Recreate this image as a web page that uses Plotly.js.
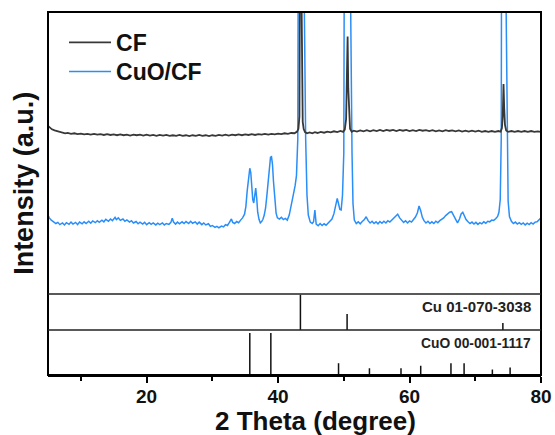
<!DOCTYPE html>
<html>
<head>
<meta charset="utf-8">
<script src="https://cdn.plot.ly/plotly-3.0.1.min.js"></script>
<style>html,body{margin:0;padding:0;background:#fff;}#chart{width:555px;height:435px;}</style>
</head>
<body>
<div id="chart"></div>
<script>
// ---- Data ----
const cfX = [5.0,5.3,5.6,6.0,6.4,6.8,7.2,7.6,8.0,8.5,9.0,9.5,10.0,10.5,11.0,11.5,12.0,12.5,13.0,13.5,14.0,14.5,15.0,15.5,16.0,16.5,17.0,17.5,18.0,18.5,19.0,19.5,20.0,20.5,21.0,21.5,22.0,22.5,23.0,23.5,24.0,24.5,25.0,25.5,26.0,26.5,27.0,27.5,28.0,28.5,29.0,29.5,30.0,30.5,31.0,31.5,32.0,32.5,33.0,33.5,34.0,34.5,35.0,35.5,36.0,36.5,37.0,37.5,38.0,38.5,39.0,39.5,40.0,40.5,41.0,41.5,42.0,42.5,42.9,43.1,43.25,43.35,43.45,43.55,43.65,43.75,43.9,44.1,44.4,44.8,45.2,45.6,46.0,46.5,47.0,47.5,48.0,48.5,49.0,49.5,49.9,50.15,50.35,50.48,50.58,50.68,50.8,50.95,51.2,51.5,52.0,52.5,53.0,53.5,54.0,54.5,55.0,55.5,56.0,56.5,57.0,57.5,58.0,58.5,59.0,59.5,60.0,60.5,61.0,61.5,62.0,62.5,63.0,63.5,64.0,64.5,65.0,65.5,66.0,66.5,67.0,67.5,68.0,68.5,69.0,69.5,70.0,70.5,71.0,71.5,72.0,72.5,73.0,73.5,73.85,74.05,74.18,74.3,74.4,74.52,74.7,75.0,75.5,76.0,76.5,77.0,77.5,78.0,78.5,79.0,79.5,80.0];
const cfY = [59.6,58.9,58.4,58.0,57.7,57.4,57.3,57.0,57.1,56.8,57.0,56.7,56.9,56.6,56.8,56.5,56.8,56.5,56.7,56.4,56.7,56.4,56.6,56.3,56.6,56.3,56.5,56.2,56.5,56.3,56.5,56.2,56.5,56.2,56.4,56.1,56.4,56.2,56.4,56.1,56.3,56.1,56.4,56.1,56.3,56.0,56.3,56.1,56.4,56.1,56.3,56.0,56.3,56.1,56.4,56.2,56.5,56.2,56.5,56.3,56.6,56.3,56.6,56.4,56.7,56.4,56.7,56.5,56.8,56.5,56.8,56.6,56.9,56.7,57.0,56.8,57.1,57.0,57.6,58.6,63,90,200,110,70,61,58.5,57.4,57.0,57.3,57.0,57.4,57.1,57.5,57.2,57.6,57.3,57.7,57.4,57.8,57.5,58.3,62,75,91.3,73,62.5,58.6,57.5,57.9,57.6,58.0,57.7,58.1,57.7,58.1,57.8,58.2,57.8,58.2,57.9,58.2,57.8,58.2,57.9,58.2,57.8,58.1,57.8,58.2,57.9,58.1,57.8,58.1,57.7,58.0,57.7,58.1,57.8,58.0,57.7,58.0,57.6,57.9,57.6,57.9,57.6,57.9,57.5,57.8,57.5,57.8,57.5,57.8,57.6,58.8,63,74.5,66,60,58.0,57.5,57.8,57.5,57.8,57.5,57.8,57.5,57.8,57.5,57.7,57.5];

const cuocfX = [5.0,5.2,5.5,5.8,6.2,6.5,6.8,7.2,7.5,7.8,8.2,8.5,8.8,9.2,9.5,9.8,10.2,10.5,10.8,11.2,11.5,11.8,12.2,12.5,12.8,13.2,13.5,13.8,14.2,14.5,14.8,15.2,15.4,15.7,16.0,16.4,16.7,17.0,17.4,17.7,18.0,18.4,18.7,19.0,19.4,19.7,20.0,20.4,20.7,21.0,21.4,21.7,22.0,22.4,22.7,23.0,23.4,23.7,23.9,24.1,24.4,24.7,25.0,25.4,25.7,26.0,26.4,26.7,27.0,27.4,27.7,28.0,28.4,28.7,29.0,29.4,29.7,30.0,30.4,30.7,31.0,31.4,31.7,32.0,32.3,32.6,32.9,33.1,33.4,33.7,34.0,34.3,34.6,34.9,35.1,35.3,35.5,35.7,35.85,36.0,36.15,36.3,36.45,36.6,36.75,36.9,37.1,37.3,37.5,37.7,37.9,38.1,38.3,38.5,38.7,38.85,39.0,39.15,39.3,39.5,39.7,39.9,40.2,40.5,40.8,41.1,41.4,41.7,42.0,42.3,42.6,42.8,43.0,43.3,43.5,43.65,43.8,44.0,44.2,44.4,44.6,44.9,45.2,45.4,45.6,45.8,46.1,46.4,46.7,47.0,47.3,47.6,47.9,48.2,48.5,48.8,49.0,49.2,49.4,49.6,49.8,50.0,50.3,50.5,50.65,50.8,51.05,51.25,51.4,51.6,51.9,52.2,52.5,52.8,53.1,53.4,53.7,54.0,54.3,54.6,54.9,55.2,55.5,55.8,56.1,56.4,56.7,57.0,57.3,57.6,57.9,58.2,58.5,58.8,59.1,59.4,59.7,60.0,60.3,60.6,60.9,61.2,61.45,61.7,61.95,62.2,62.5,62.8,63.1,63.4,63.7,64.0,64.3,64.6,64.9,65.2,65.5,65.8,66.1,66.4,66.7,67.0,67.3,67.6,67.85,68.1,68.35,68.6,68.9,69.2,69.5,69.8,70.1,70.4,70.7,71.0,71.3,71.6,71.9,72.2,72.5,72.8,73.1,73.4,73.6,73.8,73.95,74.1,74.25,74.4,74.55,74.7,74.85,75.0,75.2,75.5,75.8,76.1,76.4,76.7,77.0,77.3,77.6,77.9,78.2,78.5,78.8,79.1,79.4,79.7,80.0];
const cuocfY = [28.0,27.0,26.2,25.6,25.0,25.4,24.6,25.2,24.5,25.3,24.7,25.5,24.8,25.4,24.6,25.5,24.9,25.6,25.0,25.8,25.1,25.9,25.3,26.0,25.4,26.2,25.6,26.5,25.8,26.6,26.0,27.2,26.4,27.0,26.1,26.6,25.8,26.3,25.5,26.0,25.2,25.7,24.9,25.5,24.8,25.4,24.6,25.3,24.7,25.2,24.5,25.1,24.6,25.2,24.5,25.0,24.7,25.4,26.9,25.5,24.8,25.5,24.9,25.6,25.0,25.7,25.0,25.8,25.1,25.6,24.8,25.5,24.6,25.2,24.5,24.9,24.0,24.3,23.6,24.0,23.5,24.1,23.8,24.6,24.3,25.4,26.6,25.4,25.0,25.7,25.3,26.2,27.0,28.3,31.0,36.5,41.5,44.6,43.0,38.0,33.5,32.3,35.5,37.6,34.0,29.0,26.5,25.2,25.7,26.5,28.0,30.5,35.0,41.0,45.5,48.5,48.7,46.0,40.0,33.0,28.7,27.0,26.6,27.2,26.4,26.8,26.2,28.0,31.0,35.0,38.5,42.0,55,100,300,650,300,100,55,35,28,25.5,25.0,25.6,29.8,24.8,24.2,25.0,24.3,24.9,24.4,25.2,25.6,26.6,28.5,31.5,33.9,32.0,30.0,29.8,35.0,50,100,300,650,300,100,50,32,26.2,25.0,25.6,24.9,25.7,26.3,27.4,26.0,25.2,25.8,25.0,25.6,24.9,25.7,25.1,25.8,25.2,26.0,25.5,26.2,26.6,27.3,28.3,27.0,26.0,25.4,26.0,25.2,25.9,25.5,26.4,27.3,28.8,31.2,29.5,27.2,26.0,25.2,25.8,25.0,25.6,25.0,25.8,25.3,26.0,26.4,27.0,27.8,28.5,29.0,29.2,27.8,26.2,25.2,26.6,28.4,29.0,27.8,26.4,25.6,25.0,25.5,24.8,25.4,24.7,25.3,24.9,25.6,25.1,25.8,25.6,26.2,26.1,26.7,27.5,29.0,33.5,55,100,300,650,300,100,50,33,27.5,25.8,25.0,25.5,24.8,25.3,24.7,25.2,24.5,25.1,24.6,25.3,24.8,25.5,25.6,26.3,27.0];

const cuRefPos = [43.4, 50.5, 74.2];
const cuRefInt = [100, 45, 20];
const cuoRefPos = [35.7, 38.9, 49.2, 53.9, 58.7, 61.7, 66.3, 68.3, 72.6, 75.3];
const cuoRefInt = [100, 100, 28, 16, 16, 22, 28, 28, 13, 18];

const xTickVals = [20, 40, 60, 80];
const xTickText = ['20', '40', '60', '80'];
const seriesNames = ['CF', 'CuO/CF'];
const refLabels = ['Cu 01-070-3038', 'CuO 00-001-1117'];
const xTitle = '2 Theta (degree)';
const yTitle = 'Intensity (a.u.)';

// ---- Build stick traces from reference arrays ----
function sticks(pos, inten) {
  const xs = [], ys = [];
  pos.forEach((p, i) => { xs.push(p, p, null); ys.push(0, inten[i], null); });
  return {xs, ys};
}
const cuS = sticks(cuRefPos, cuRefInt);
const cuoS = sticks(cuoRefPos, cuoRefInt);

const FONT = 'Liberation Sans, Arial, Helvetica, sans-serif';
const legFont = {family: FONT, size: 23, weight: 700, color: '#111'};

const traces = [
  {x: cuocfX, y: cuocfY, type: 'scatter', mode: 'lines', name: seriesNames[1], legend: 'legend2',
   line: {color: '#2a8ef8', width: 1.5}, xaxis: 'x', yaxis: 'y'},
  {x: cfX, y: cfY, type: 'scatter', mode: 'lines', name: seriesNames[0], legend: 'legend',
   line: {color: '#383838', width: 1.8}, xaxis: 'x', yaxis: 'y'},
  {x: cuS.xs, y: cuS.ys, type: 'scatter', mode: 'lines', showlegend: false,
   line: {color: '#111', width: 1.5}, xaxis: 'x', yaxis: 'y2', hoverinfo: 'skip'},
  {x: cuoS.xs, y: cuoS.ys, type: 'scatter', mode: 'lines', showlegend: false,
   line: {color: '#111', width: 1.5}, xaxis: 'x', yaxis: 'y3', hoverinfo: 'skip'}
];

const d1 = 0.124, d2 = 0.2231;
const hiddenY = {showgrid: false, zeroline: false, showticklabels: false, ticks: '', showline: false, fixedrange: true};

const layout = {
  width: 555, height: 435,
  margin: {l: 48, r: 14, t: 12, b: 60},
  paper_bgcolor: '#fff', plot_bgcolor: '#fff',
  font: {family: FONT, color: '#000'},
  showlegend: true,
  legend: {x: 0.0325, y: 0.916, xanchor: 'left', yanchor: 'middle', bgcolor: 'rgba(0,0,0,0)',
           font: legFont, itemwidth: 42},
  legend2: {x: 0.0325, y: 0.836, xanchor: 'left', yanchor: 'middle', bgcolor: 'rgba(0,0,0,0)',
           font: legFont, itemwidth: 42},
  xaxis: {range: [5, 80], domain: [0, 1], anchor: 'y3', tickmode: 'array', tickvals: xTickVals, ticktext: xTickText,
          ticks: 'outside', ticklen: 6, tickwidth: 2, tickcolor: '#000', ticklabelstandoff: -3,
          minor: {ticks: 'outside', tickmode: 'linear', tick0: 0, dtick: 10, ticklen: 4, tickwidth: 2, tickcolor: '#000'},
          showline: true, linewidth: 2, linecolor: '#000', showgrid: false, zeroline: false,
          ticklabeloverflow: 'allow',
          tickfont: {family: FONT, size: 19, weight: 700, color: '#111'}},
  yaxis: Object.assign({domain: [d2, 1], range: [0, 100]}, hiddenY),
  yaxis2: Object.assign({domain: [d1, d2], range: [0, 102]}, hiddenY),
  yaxis3: Object.assign({domain: [0, d1], range: [0, 107]}, hiddenY),
  shapes: [
    {type: 'rect', xref: 'paper', yref: 'paper', x0: 0, x1: 1, y0: 0, y1: 1, line: {color: '#000', width: 2}, layer: 'above'},
    {type: 'line', xref: 'paper', yref: 'paper', x0: 0, x1: 1, y0: d1, y1: d1, line: {color: '#222', width: 1.3}, layer: 'above'},
    {type: 'line', xref: 'paper', yref: 'paper', x0: 0, x1: 1, y0: d2, y1: d2, line: {color: '#222', width: 1.3}, layer: 'above'}
  ],
  annotations: [
    {text: xTitle, xref: 'paper', yref: 'paper', x: 0.5426, y: -0.128, showarrow: false,
     xanchor: 'center', yanchor: 'middle', font: {family: FONT, size: 26, weight: 700, color: '#111'}},
    {text: yTitle, xref: 'paper', yref: 'paper', x: -0.05, y: 0.5275, textangle: -90, showarrow: false,
     xanchor: 'center', yanchor: 'middle', font: {family: FONT, size: 27, weight: 700, color: '#111'}},
    {text: refLabels[0], xref: 'paper', yref: 'paper', x: 0.984, y: 0.190, showarrow: false,
     xanchor: 'right', yanchor: 'middle', font: {family: FONT, size: 15, weight: 700, color: '#222'}},
    {text: refLabels[1], xref: 'paper', yref: 'paper', x: 0.984, y: 0.087, showarrow: false,
     xanchor: 'right', yanchor: 'middle', font: {family: FONT, size: 13.8, weight: 700, color: '#222'}}
  ]
};

Plotly.newPlot('chart', traces, layout, {staticPlot: true, displayModeBar: false});
</script>
</body>
</html>
